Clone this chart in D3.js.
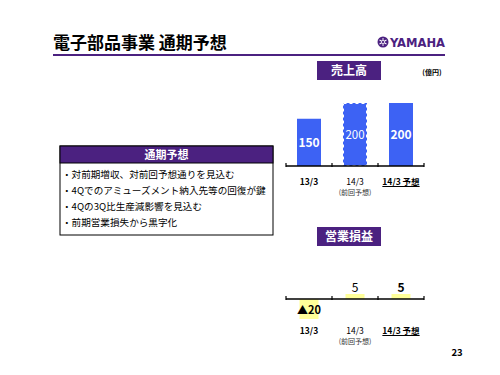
<!DOCTYPE html>
<html><head><meta charset="utf-8">
<script src="https://cdn.jsdelivr.net/npm/d3@7"></script>
<style>
html,body{margin:0;padding:0;background:#fff;}
svg{display:block;font-family:"Noto Sans CJK JP","Noto Sans",sans-serif;}
</style></head>
<body>
<script>
const categories = ["13/3", "14/3", "14/3 予想"];
const subLabels = ["", "(前回予想)", ""];
const salesValues = [150, 200, 200];
const profitValues = [-20, 5, 5];
const salesLabels = ["150", "200", "200"];
const profitLabels = ["▲20", "5", "5"];
const bullets = [
  "・対前期増収、対前回予想通りを見込む",
  "・4Qでのアミューズメント納入先等の回復が鍵",
  "・4Qの3Q比生産減影響を見込む",
  "・前期営業損失から黒字化"
];

const purple = "#4b2180";
const blue = "#3d62f4";
const yellow = "#ffff99";

const svg = d3.select("body").append("svg").attr("width", 500).attr("height", 375);

// Title
svg.append("text").attr("x", 53).attr("y", 49).attr("font-size", 17).attr("font-weight", "bold")
  .attr("fill", "#000").text("電子部品事業 通期予想");
svg.append("rect").attr("x", 53).attr("y", 54).attr("width", 392).attr("height", 2).attr("fill", purple);

// YAMAHA logo
const lg = svg.append("g").attr("transform", "translate(383,42)");
lg.append("circle").attr("r", 5.5).attr("fill", purple);
for (let i = 0; i < 3; i++) {
  lg.append("line").attr("x1", 0).attr("y1", -4).attr("x2", 0).attr("y2", 4)
    .attr("stroke", "#fff").attr("stroke-width", 0.9)
    .attr("transform", `rotate(${i * 60})`);
}
lg.append("circle").attr("r", 1.6).attr("fill", purple).attr("stroke", "#fff").attr("stroke-width", 0.7);
svg.append("text").attr("x", 390).attr("y", 47).attr("font-size", 13).attr("font-weight", "bold")
  .attr("font-family", "'Liberation Sans Narrow','DejaVu Sans Condensed',sans-serif")
  .attr("textLength", 55).attr("lengthAdjust", "spacingAndGlyphs")
  .attr("fill", purple).text("YAMAHA");

// Left box
const bx = 60, by = 146, bw = 213, bh = 89;
svg.append("rect").attr("x", bx).attr("y", by).attr("width", bw).attr("height", bh)
  .attr("fill", "#fff").attr("stroke", "#000").attr("stroke-width", 1);
svg.append("rect").attr("x", bx).attr("y", by).attr("width", bw).attr("height", 17)
  .attr("fill", purple).attr("stroke", "#000").attr("stroke-width", 1);
svg.append("text").attr("x", bx + bw / 2).attr("y", by + 13).attr("text-anchor", "middle")
  .attr("font-size", 11).attr("font-weight", "bold").attr("fill", "#fff").text("通期予想");
svg.selectAll("text.bullet").data(bullets).enter().append("text").attr("class", "bullet")
  .attr("x", 62).attr("y", (d, i) => 178 + i * 16).attr("font-size", 9.6).attr("fill", "#000")
  .text(d => d);

// Label boxes
function labelBox(y, txt) {
  svg.append("rect").attr("x", 317).attr("y", y).attr("width", 64).attr("height", 19).attr("fill", purple);
  svg.append("text").attr("x", 349).attr("y", y + 14).attr("text-anchor", "middle")
    .attr("font-size", 12).attr("font-weight", "bold").attr("fill", "#fff").text(txt);
}
labelBox(61, "売上高");
labelBox(227, "営業損益");
svg.append("text").attr("x", 432).attr("y", 75).attr("text-anchor", "middle")
  .attr("font-size", 7).attr("font-weight", "bold").text("(億円)");

const x = d3.scaleBand().domain(categories).range([286, 424]).padding(0);

function axis(y0) {
  svg.append("line").attr("x1", 286).attr("x2", 424).attr("y1", y0).attr("y2", y0)
    .attr("stroke", "#000").attr("stroke-width", 1.5);
  const bounds = categories.map(c => x(c)).concat([x(categories[categories.length - 1]) + x.bandwidth()]);
  svg.selectAll(null).data(bounds).enter().append("line")
    .attr("x1", d => d).attr("x2", d => d).attr("y1", y0 - 3).attr("y2", y0 + 1)
    .attr("stroke", "#000").attr("stroke-width", 1.2);
}

function catLabels(y0) {
  categories.forEach((c, i) => {
    const cx = x(c) + x.bandwidth() / 2;
    const t = svg.append("text").attr("x", cx).attr("y", y0).attr("text-anchor", "middle")
      .attr("font-size", 8.5).attr("fill", "#000")
      .attr("font-weight", i === 1 ? "normal" : "bold").text(c);
    if (i === 2) {
      const w = t.node().getComputedTextLength();
      svg.append("line").attr("x1", cx - w / 2).attr("x2", cx + w / 2)
        .attr("y1", y0 + 1.5).attr("y2", y0 + 1.5).attr("stroke", "#000").attr("stroke-width", 1);
    }
    if (subLabels[i]) {
      svg.append("text").attr("x", cx).attr("y", y0 + 10).attr("text-anchor", "middle")
        .attr("font-size", 7).attr("fill", "#333").text(subLabels[i]);
    }
  });
}

// Sales chart
const ys = d3.scaleLinear().domain([0, 200]).range([166, 103]);
const sw = 24;
salesValues.forEach((v, i) => {
  const c = categories[i];
  const bx0 = x(c) + (x.bandwidth() - sw) / 2;
  svg.append("rect").attr("x", bx0).attr("y", ys(v)).attr("width", sw).attr("height", ys(0) - ys(v))
    .attr("fill", blue);
  if (i === 1) {
    svg.append("rect").attr("x", bx0 + 0.5).attr("y", ys(v) + 0.5).attr("width", sw - 1).attr("height", ys(0) - ys(v) - 1)
      .attr("fill", "none").attr("stroke", "#fff").attr("stroke-width", 1).attr("stroke-dasharray", "3,3");
  }
  svg.append("text").attr("x", bx0 + sw / 2).attr("y", (ys(v) + ys(0)) / 2 + 4.5)
    .attr("text-anchor", "middle").attr("font-size", i === 1 ? 11.5 : 12).attr("fill", "#fff")
    .attr("font-weight", i === 1 ? "normal" : "bold").text(salesLabels[i]);
});
axis(166);
catLabels(185);

// Profit chart
const yp = d3.scaleLinear().domain([-20, 5]).range([319, 294]);
const pw = 19;
profitValues.forEach((v, i) => {
  const c = categories[i];
  const bx0 = x(c) + (x.bandwidth() - pw) / 2;
  const top = yp(Math.max(0, v)), bot = yp(Math.min(0, v));
  svg.append("rect").attr("x", bx0).attr("y", top).attr("width", pw).attr("height", bot - top).attr("fill", yellow);
  const ty = v < 0 ? (top + bot) / 2 + 4.5 : top - 2;
  svg.append("text").attr("x", bx0 + pw / 2).attr("y", ty).attr("text-anchor", "middle")
    .attr("font-size", v < 0 ? 11 : 12).attr("fill", "#000")
    .attr("font-weight", i === 1 ? "normal" : "bold").text(profitLabels[i]);
});
axis(299);
catLabels(334);

// page number
svg.append("text").attr("x", 457).attr("y", 356).attr("text-anchor", "middle")
  .attr("font-size", 9.5).attr("font-weight", "bold").text("23");
</script>
</body></html>
